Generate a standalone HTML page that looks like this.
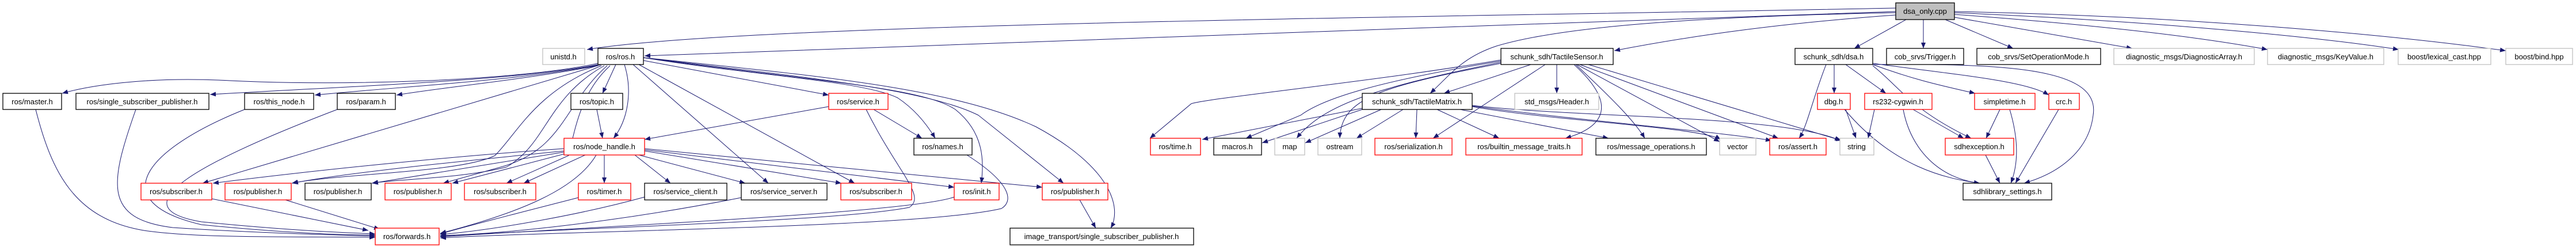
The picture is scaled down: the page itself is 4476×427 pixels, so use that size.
<!DOCTYPE html>
<html><head><meta charset="utf-8"><style>
html,body{margin:0;padding:0;background:#fff;}
svg{display:block;}
text{font-family:"Liberation Sans",sans-serif;font-size:13px;fill:#000;text-anchor:middle;}
.n{fill:#fff;stroke:#000;stroke-width:1.3;}
.r{fill:#fff;stroke:#ff0000;stroke-width:1.3;}
.g{fill:#fff;stroke:#bfbfbf;stroke-width:1.3;}
.e path{fill:none;stroke:#191970;stroke-width:1;}
</style></head><body>
<svg width="4476" height="427" viewBox="0 0 4476 427" xmlns="http://www.w3.org/2000/svg">
<defs><marker id="a" markerWidth="10" markerHeight="8" refX="10" refY="4" orient="auto" markerUnits="userSpaceOnUse"><path d="M0,0 L10,4 L0,8z" fill="#191970"/></marker></defs>
<g class="e" marker-end="url(#a)">
<!-- from dsa_only -->
<path marker-end="url(#a)" d="M3294,14 C2500,30 1300,40 1020,86"/>
<path marker-end="url(#a)" d="M3294,20 C2600,45 1500,80 1120,97"/>
<path marker-end="url(#a)" d="M3294,26 C3100,40 2950,60 2805,88"/>
<path marker-end="url(#a)" d="M3294,22 C2900,30 2700,50 2600,80 C2540,100 2520,130 2485,162"/>
<path marker-end="url(#a)" d="M3312,34 L3222,84"/>
<path marker-end="url(#a)" d="M3342,34 L3342,84"/>
<path marker-end="url(#a)" d="M3380,34 L3498,84"/>
<path marker-end="url(#a)" d="M3396,30 L3705,84"/>
<path marker-end="url(#a)" d="M3396,25 C3600,40 3800,60 3940,86"/>
<path marker-end="url(#a)" d="M3396,22 C3700,35 4000,60 4168,86"/>
<path marker-end="url(#a)" d="M3396,20 C3800,28 4150,60 4354,88"/>
<!-- from ros.h -->
<path marker-end="url(#a)" d="M1039,110 C900,140 600,150 400,140 C250,132 150,150 108,162"/>
<path marker-end="url(#a)" d="M1039,112 C900,140 600,150 365,164"/>
<path marker-end="url(#a)" d="M1039,113 C900,140 700,150 547,165"/>
<path marker-end="url(#a)" d="M1039,114 C900,140 780,150 689,165"/>
<path marker-end="url(#a)" d="M1070,112 L1047,162"/>
<path marker-end="url(#a)" d="M1085,112 C1100,160 1090,210 1066,240"/>
<path marker-end="url(#a)" d="M1045,112 L352,318"/>
<path marker-end="url(#a)" d="M1045,114 C930,160 900,230 860,270 C800,300 600,300 507,318"/>
<path marker-end="url(#a)" d="M1050,114 C950,170 950,250 880,290 C800,310 700,310 646,318"/>
<path marker-end="url(#a)" d="M1055,114 C980,180 980,260 870,290 L770,318"/>
<path marker-end="url(#a)" d="M1060,114 C1010,160 1000,220 988,270 L880,318"/>
<path marker-end="url(#a)" d="M1118,105 L1440,165"/>
<path marker-end="url(#a)" d="M1118,100 C1300,130 1500,140 1560,170 C1590,190 1610,215 1625,240"/>
<path marker-end="url(#a)" d="M1100,112 L1335,318"/>
<path marker-end="url(#a)" d="M1110,112 L1485,318"/>
<path marker-end="url(#a)" d="M1118,100 C1400,140 1600,150 1660,190 C1710,230 1710,280 1705,318"/>
<path marker-end="url(#a)" d="M1118,100 C1350,130 1600,150 1700,200 L1848,318"/>
<path marker-end="url(#a)" d="M1118,100 C1400,130 1650,150 1800,220 C1930,290 1950,360 1930,396"/>
<!-- level 3 to forwards -->
<path marker-end="url(#a)" d="M62,190 C90,300 130,380 250,400 C350,415 550,410 652,412"/>
<path marker-end="url(#a)" d="M236,190 C190,320 180,380 300,395 C450,405 600,408 652,410"/>
<path marker-end="url(#a)" d="M425,190 C250,260 180,350 350,390 C500,405 600,408 652,408"/>
<path marker-end="url(#a)" d="M586,190 C350,280 200,360 350,385 C500,400 600,404 652,406"/>
<path marker-end="url(#a)" d="M1037,190 L1047,240"/>
<path marker-end="url(#a)" d="M1440,185 L1120,242"/>
<path marker-end="url(#a)" d="M1518,190 L1602,240"/>
<path marker-end="url(#a)" d="M1505,190 C1560,300 1610,340 1580,360 C1450,385 1000,395 765,410"/>
<!-- node_handle -->
<path marker-end="url(#a)" d="M980,258 C800,270 550,295 370,318"/>
<path marker-end="url(#a)" d="M980,262 C800,280 600,300 508,318"/>
<path marker-end="url(#a)" d="M980,264 L647,318"/>
<path marker-end="url(#a)" d="M985,266 L786,318"/>
<path marker-end="url(#a)" d="M1017,269 L910,318"/>
<path marker-end="url(#a)" d="M1050,269 L1050,318"/>
<path marker-end="url(#a)" d="M1103,269 L1165,318"/>
<path marker-end="url(#a)" d="M1110,269 L1295,318"/>
<path marker-end="url(#a)" d="M1120,262 L1462,318"/>
<path marker-end="url(#a)" d="M1120,260 L1658,325"/>
<path marker-end="url(#a)" d="M1120,258 L1811,325"/>
<path marker-end="url(#a)" d="M1036,269 C1000,330 900,370 765,405"/>
<!-- level 5 to forwards -->
<path marker-end="url(#a)" d="M368,345 L640,400"/>
<path marker-end="url(#a)" d="M496,347 L660,398"/>
<path marker-end="url(#a)" d="M1005,343 C900,370 820,390 765,406"/>
<path marker-end="url(#a)" d="M1120,342 C1000,375 850,400 765,407"/>
<path marker-end="url(#a)" d="M1288,343 C1100,380 900,405 765,409"/>
<path marker-end="url(#a)" d="M1658,342 C1580,370 1000,395 765,411"/>
<path marker-end="url(#a)" d="M1680,269 C1760,320 1760,350 1740,362 C1600,395 1000,400 765,413"/>
<path marker-end="url(#a)" d="M1876,347 L1904,396"/>
<!-- TactileSensor -->
<path marker-end="url(#a)" d="M2660,112 L2509,162"/>
<path marker-end="url(#a)" d="M2608,104 C2400,140 2100,170 2070,180 L1998,240"/>
<path marker-end="url(#a)" d="M2608,106 C2400,140 2300,170 2260,200 L2165,240"/>
<path marker-end="url(#a)" d="M2608,108 C2400,150 2300,180 2253,240"/>
<path marker-end="url(#a)" d="M2608,110 C2400,150 2330,170 2328,240"/>
<path marker-end="url(#a)" d="M2685,112 L2490,240"/>
<path marker-end="url(#a)" d="M2705,112 L2705,162"/>
<path marker-end="url(#a)" d="M2735,112 C2810,180 2790,220 2720,240"/>
<path marker-end="url(#a)" d="M2738,112 C2800,170 2840,210 2858,240"/>
<path marker-end="url(#a)" d="M2740,112 L2988,246"/>
<path marker-end="url(#a)" d="M2745,112 L3090,240"/>
<path marker-end="url(#a)" d="M2760,112 L3200,244"/>
<!-- TactileMatrix -->
<path marker-end="url(#a)" d="M2367,188 L2089,242"/>
<path marker-end="url(#a)" d="M2367,190 L2193,248"/>
<path marker-end="url(#a)" d="M2400,190 L2268,248"/>
<path marker-end="url(#a)" d="M2438,190 L2357,240"/>
<path marker-end="url(#a)" d="M2462,190 L2460,240"/>
<path marker-end="url(#a)" d="M2497,190 L2605,240"/>
<path marker-end="url(#a)" d="M2537,190 L2795,240"/>
<path marker-end="url(#a)" d="M2558,185 C2700,210 2950,220 2990,242"/>
<path marker-end="url(#a)" d="M2558,184 C2750,210 3000,230 3078,244"/>
<path marker-end="url(#a)" d="M2558,183 C2750,205 3100,200 3198,244"/>
<!-- dsa -->
<path marker-end="url(#a)" d="M3187,112 L3187,162"/>
<path marker-end="url(#a)" d="M3207,112 L3277,162"/>
<path marker-end="url(#a)" d="M3254,112 C3330,140 3380,150 3432,162"/>
<path marker-end="url(#a)" d="M3254,110 C3400,130 3520,140 3560,165"/>
<path marker-end="url(#a)" d="M3254,114 C3300,150 3320,190 3425,240"/>
<path marker-end="url(#a)" d="M3254,112 C3500,110 3650,120 3637,200 C3630,260 3580,300 3517,318"/>
<path marker-end="url(#a)" d="M3173,112 C3150,170 3140,220 3126,240"/>
<path marker-end="url(#a)" d="M3257,190 L3246,240"/>
<path marker-end="url(#a)" d="M3207,190 L3225,240"/>
<path marker-end="url(#a)" d="M3205,190 C3290,290 3380,310 3440,318"/>
<path marker-end="url(#a)" d="M3324,190 L3412,240"/>
<path marker-end="url(#a)" d="M3307,190 C3320,260 3370,310 3440,318"/>
<path marker-end="url(#a)" d="M3475,190 L3451,240"/>
<path marker-end="url(#a)" d="M3492,190 C3510,250 3505,290 3494,318"/>
<path marker-end="url(#a)" d="M3577,190 L3502,318"/>
<path marker-end="url(#a)" d="M3450,269 L3475,318"/>
</g>
<!-- nodes -->
<g>
<rect x="3294" y="5" width="102" height="29" fill="#bfbfbf" stroke="#000" stroke-width="1.3"/><text x="3345" y="24">dsa_only.cpp</text>
<rect class="g" x="943" y="84" width="73" height="28"/><text x="979" y="103">unistd.h</text>
<rect class="n" x="1039" y="84" width="79" height="28"/><text x="1078" y="103">ros/ros.h</text>
<rect class="n" x="2608" y="84" width="195" height="28"/><text x="2705" y="103">schunk_sdh/TactileSensor.h</text>
<rect class="n" x="3119" y="84" width="135" height="28"/><text x="3186" y="103">schunk_sdh/dsa.h</text>
<rect class="n" x="3278" y="84" width="134" height="28"/><text x="3345" y="103">cob_srvs/Trigger.h</text>
<rect class="n" x="3435" y="84" width="215" height="28"/><text x="3542" y="103">cob_srvs/SetOperationMode.h</text>
<rect class="g" x="3673" y="84" width="244" height="28"/><text x="3795" y="103">diagnostic_msgs/DiagnosticArray.h</text>
<rect class="g" x="3940" y="84" width="202" height="28"/><text x="4041" y="103">diagnostic_msgs/KeyValue.h</text>
<rect class="g" x="4167" y="84" width="161" height="28"/><text x="4247" y="103">boost/lexical_cast.hpp</text>
<rect class="g" x="4354" y="84" width="116" height="28"/><text x="4412" y="103">boost/bind.hpp</text>

<rect class="n" x="5" y="162" width="102" height="28"/><text x="56" y="181">ros/master.h</text>
<rect class="n" x="132" y="162" width="231" height="28"/><text x="247" y="181">ros/single_subscriber_publisher.h</text>
<rect class="n" x="425" y="162" width="120" height="28"/><text x="485" y="181">ros/this_node.h</text>
<rect class="n" x="586" y="162" width="101" height="28"/><text x="636" y="181">ros/param.h</text>
<rect class="n" x="992" y="162" width="90" height="28"/><text x="1037" y="181">ros/topic.h</text>
<rect class="r" x="1440" y="162" width="103" height="28"/><text x="1491" y="181">ros/service.h</text>
<rect class="n" x="2367" y="162" width="191" height="28"/><text x="2462" y="181">schunk_sdh/TactileMatrix.h</text>
<rect class="g" x="2632" y="162" width="146" height="28"/><text x="2705" y="181">std_msgs/Header.h</text>
<rect class="r" x="3158" y="162" width="57" height="28"/><text x="3186" y="181">dbg.h</text>
<rect class="r" x="3240" y="162" width="117" height="28"/><text x="3298" y="181">rs232-cygwin.h</text>
<rect class="r" x="3431" y="162" width="105" height="28"/><text x="3483" y="181">simpletime.h</text>
<rect class="r" x="3560" y="162" width="53" height="28"/><text x="3586" y="181">crc.h</text>

<rect class="r" x="980" y="240" width="140" height="29"/><text x="1050" y="259">ros/node_handle.h</text>
<rect class="n" x="1588" y="240" width="101" height="29"/><text x="1638" y="259">ros/names.h</text>
<rect class="r" x="1999" y="240" width="87" height="29"/><text x="2042" y="259">ros/time.h</text>
<rect class="n" x="2109" y="240" width="83" height="29"/><text x="2150" y="259">macros.h</text>
<rect class="g" x="2215" y="240" width="52" height="29"/><text x="2241" y="259">map</text>
<rect class="g" x="2290" y="240" width="76" height="29"/><text x="2328" y="259">ostream</text>
<rect class="r" x="2389" y="240" width="134" height="29"/><text x="2456" y="259">ros/serialization.h</text>
<rect class="r" x="2547" y="240" width="202" height="29"/><text x="2648" y="259">ros/builtin_message_traits.h</text>
<rect class="n" x="2773" y="240" width="192" height="29"/><text x="2869" y="259">ros/message_operations.h</text>
<rect class="g" x="2988" y="240" width="63" height="29"/><text x="3019" y="259">vector</text>
<rect class="r" x="3075" y="240" width="98" height="29"/><text x="3124" y="259">ros/assert.h</text>
<rect class="g" x="3197" y="240" width="59" height="29"/><text x="3226" y="259">string</text>
<rect class="r" x="3380" y="240" width="119" height="29"/><text x="3439" y="259">sdhexception.h</text>

<rect class="r" x="245" y="318" width="123" height="29"/><text x="306" y="337">ros/subscriber.h</text>
<rect class="r" x="391" y="318" width="115" height="29"/><text x="448" y="337">ros/publisher.h</text>
<rect class="n" x="530" y="318" width="115" height="29"/><text x="587" y="337">ros/publisher.h</text>
<rect class="r" x="669" y="318" width="115" height="29"/><text x="726" y="337">ros/publisher.h</text>
<rect class="r" x="807" y="318" width="124" height="29"/><text x="869" y="337">ros/subscriber.h</text>
<rect class="r" x="1005" y="318" width="91" height="29"/><text x="1050" y="337">ros/timer.h</text>
<rect class="n" x="1120" y="318" width="143" height="29"/><text x="1191" y="337">ros/service_client.h</text>
<rect class="n" x="1288" y="318" width="149" height="29"/><text x="1362" y="337">ros/service_server.h</text>
<rect class="r" x="1461" y="318" width="123" height="29"/><text x="1522" y="337">ros/subscriber.h</text>
<rect class="r" x="1658" y="318" width="78" height="29"/><text x="1697" y="337">ros/init.h</text>
<rect class="r" x="1811" y="318" width="114" height="29"/><text x="1868" y="337">ros/publisher.h</text>
<rect class="n" x="3411" y="318" width="154" height="29"/><text x="3488" y="337">sdhlibrary_settings.h</text>

<rect class="r" x="652" y="396" width="111" height="29"/><text x="707" y="415">ros/forwards.h</text>
<rect class="n" x="1755" y="396" width="319" height="29"/><text x="1914" y="415">image_transport/single_subscriber_publisher.h</text>
</g>
</svg>
</body></html>
